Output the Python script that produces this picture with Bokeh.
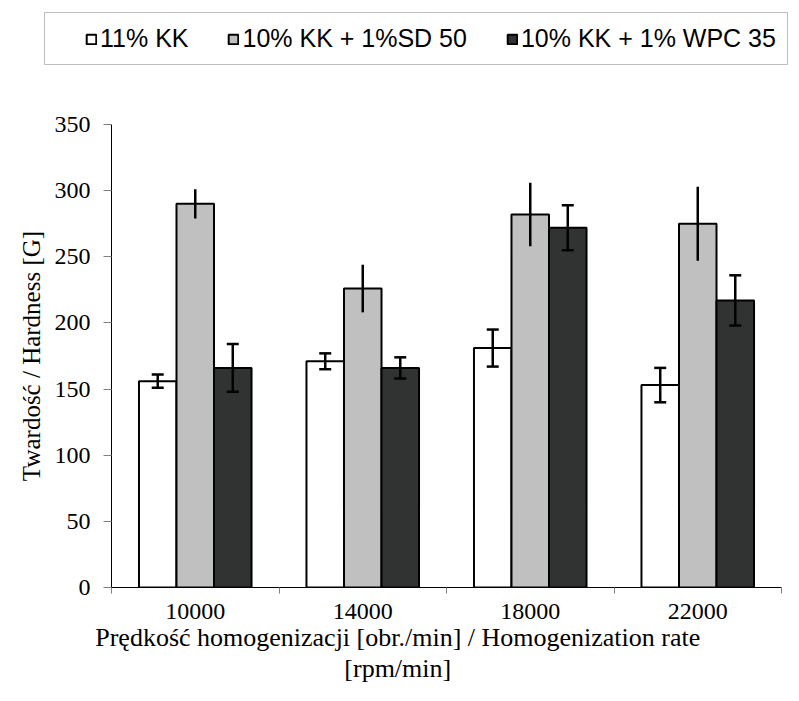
import numpy as np
from bokeh.plotting import figure
from bokeh.layouts import column
from bokeh.models import (ColumnDataSource, Whisker, TeeHead, Legend, LegendItem,
                          FixedTicker, Range1d)
from bokeh.embed import file_html
from bokeh.resources import INLINE

# ---- data ----
categories = ["10000", "14000", "18000", "22000"]
series_names = ["11% KK", "10% KK + 1%SD 50", "10% KK + 1% WPC 35"]
kk11 = [156, 171, 181, 153]
kk11_err = [5, 6, 14, 13]
sd50 = [290, 226, 282, 275]
sd50_err = [11, 18, 24, 28]
wpc35 = [166, 166, 272, 217]
wpc35_err = [18, 8, 17, 19]
y_ticks = [0, 50, 100, 150, 200, 250, 300, 350]
x_title_lines = ["Prędkość homogenizacji [obr./min] / Homogenization rate", "[rpm/min]"]
y_title = "Twardość / Hardness [G]"

series_values = [kk11, sd50, wpc35]
series_errors = [kk11_err, sd50_err, wpc35_err]
fill_colors = ["#FFFFFF", "#C0C0C0", "#313332"]
has_caps = [True, False, True]

SERIF = "Liberation Serif"
SANS = "Liberation Sans"

# ---------------- main chart ----------------
p = figure(width=799, height=621, output_backend="svg", toolbar_location=None,
           x_range=Range1d(0, len(categories)), y_range=Range1d(0, 350),
           min_border_left=111, min_border_right=18, min_border_top=44,
           min_border_bottom=114)
p.outline_line_color = None
p.xgrid.grid_line_color = None
p.ygrid.grid_line_color = None
p.background_fill_color = "white"
p.border_fill_color = "white"

bar_w = 0.224
centers = np.arange(len(categories)) + 0.5
offsets = [-bar_w, 0.0, bar_w]

for vals, errs, col, off, caps in zip(series_values, series_errors, fill_colors, offsets, has_caps):
    v = np.array(vals, dtype=float)
    e = np.array(errs, dtype=float)
    src = ColumnDataSource(dict(x=centers + off, top=v, lower=v - e, upper=v + e))
    p.vbar(x="x", top="top", width=bar_w, source=src, fill_color=col,
           line_color="black", line_width=2)
    if caps:
        lh = TeeHead(size=12, line_width=2.5, line_color="black")
        uh = TeeHead(size=12, line_width=2.5, line_color="black")
    else:
        lh = None
        uh = None
    w = Whisker(base="x", lower="lower", upper="upper", source=src, level="overlay",
                line_width=2.5, line_color="black", lower_head=lh, upper_head=uh)
    p.add_layout(w)

# x axis: labels at category centres, ticks at category boundaries
xa = p.xaxis[0]
xa.ticker = FixedTicker(ticks=list(centers), minor_ticks=list(range(len(categories) + 1)))
xa.major_label_overrides = {float(c): lab for c, lab in zip(centers, categories)}
xa.major_tick_line_color = None
xa.minor_tick_line_color = "#808080"
xa.minor_tick_out = 6
xa.minor_tick_in = 0
xa.axis_line_color = "black"
xa.major_label_text_font = SERIF
xa.major_label_text_font_size = "24px"
xa.major_label_text_color = "black"
xa.major_label_standoff = 10
# the title block sits left of the frame centre in the reference: pad each line on the right
pad = "\u00a0" * 15
xa.axis_label = "\n".join(line + pad for line in x_title_lines)
xa.axis_label_text_font = SERIF
xa.axis_label_text_font_style = "normal"
xa.axis_label_text_font_size = "26px"
xa.axis_label_text_color = "black"
xa.axis_label_text_line_height = 1.1
xa.axis_label_standoff = 1

ya = p.yaxis[0]
ya.ticker = FixedTicker(ticks=y_ticks, minor_ticks=[])
ya.major_tick_out = 8
ya.major_tick_in = 0
ya.major_tick_line_color = "#808080"
ya.axis_line_color = "black"
ya.major_label_text_font = SERIF
ya.major_label_text_font_size = "24px"
ya.major_label_text_color = "black"
ya.major_label_standoff = 13
ya.axis_label = y_title
ya.axis_label_text_font = SERIF
ya.axis_label_text_font_style = "normal"
ya.axis_label_text_font_size = "25px"
ya.axis_label_text_color = "black"
ya.axis_label_standoff = 7

# ---------------- legend strip ----------------
lg = figure(width=799, height=80, output_backend="svg", toolbar_location=None,
            x_range=Range1d(0, 1), y_range=Range1d(0, 1),
            x_axis_location=None, y_axis_location=None, min_border=0)
lg.outline_line_color = None
lg.xgrid.grid_line_color = None
lg.ygrid.grid_line_color = None
lg.background_fill_color = "white"
lg.border_fill_color = "white"

for fig in (p, lg):
    if "frame_align" in fig.properties():
        fig.frame_align = False

items = []
for name, col in zip(series_names, fill_colors):
    # hidden proxy glyph that only feeds the legend swatch
    r = lg.vbar(x=[0.5], top=[0.0], bottom=[0.0], width=0.0, fill_color=col,
                line_color="black", line_width=2)
    r.visible = False
    items.append(LegendItem(label=name, renderers=[r]))

legend = Legend(items=items, orientation="horizontal", location=(44, 15), margin=0)
legend.label_text_font = SANS
legend.label_text_font_size = "25px"
legend.label_text_color = "black"
legend.glyph_width = 12
legend.glyph_height = 12
legend.label_standoff = 3
legend.spacing = 39
legend.padding = 11
legend.border_line_color = "#808080"
legend.border_line_width = 1
legend.background_fill_color = "white"
legend.background_fill_alpha = 1
if "title_location" in Legend.properties():
    legend.title = "   "
    legend.title_location = "left"
    legend.title_standoff = 0
    legend.title_text_font = SANS
    legend.title_text_font_size = "25px"
lg.add_layout(legend, "center")

layout = column(lg, p, spacing=0)
open("out.html", "w").write(file_html(layout, INLINE))
